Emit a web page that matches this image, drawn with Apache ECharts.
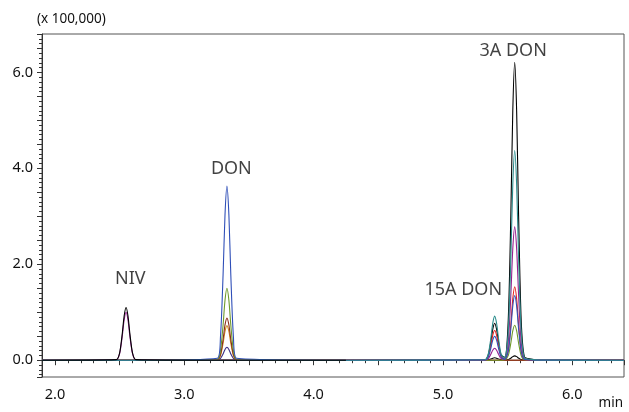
<!DOCTYPE html>
<html>
<head>
<meta charset="utf-8">
<script src="https://cdn.jsdelivr.net/npm/echarts@6/dist/echarts.min.js"></script>
<style>html,body{margin:0;padding:0;background:#fff}#c{width:629px;height:412px}</style>
</head>
<body>
<div id="c"></div>
<script>
// Retention time grid (min)
const time = [1.9,
  2.475, 2.50, 2.52, 2.535, 2.55, 2.565, 2.58, 2.60, 2.625,
  3.255, 3.28, 3.30, 3.315, 3.33, 3.345, 3.36, 3.38, 3.405,
  4.25,
  5.325, 5.35, 5.37, 5.385, 5.40, 5.415, 5.43, 5.45,
  5.478,
  5.505, 5.525, 5.54, 5.555, 5.57, 5.585, 5.605, 5.63,
  5.68, 5.75,
  6.4];

// Intensities (x 100,000)
const black1 = [0,
  0.012, 0.15, 0.54, 0.92, 1.10, 0.92, 0.54, 0.15, 0.012,
  0, 0, 0, 0, 0, 0, 0, 0, 0,
  0,
  null, null, null, null, null, null, null, null,
  null,
  null, null, null, null, null, null, null, null,
  null, null,
  null];
const purple = [0,
  0.011, 0.135, 0.487, 0.835, 1.0, 0.835, 0.487, 0.135, 0.011,
  0, 0, 0, 0, 0, 0, 0, 0, 0,
  0,
  0.003, 0.034, 0.122, 0.209, 0.25, 0.209, 0.122, 0.034,
  0.027,
  0.375, 1.354, 2.321, 2.78, 2.321, 1.354, 0.375, 0.031,
  0.011, 0.003,
  0];
const blue = [0,
  0, 0, 0, 0, 0, 0, 0, 0, 0,
  0.04, 0.49, 1.77, 3.03, 3.63, 3.03, 1.77, 0.49, 0.04,
  0,
  0.006, 0.068, 0.244, 0.418, 0.5, 0.418, 0.244, 0.068,
  0.016,
  0.182, 0.657, 1.127, 1.35, 1.127, 0.657, 0.182, 0.015,
  0.005, 0.001,
  0];
const green = [0,
  0, 0, 0, 0, 0, 0, 0, 0, 0,
  0.017, 0.2, 0.73, 1.25, 1.5, 1.25, 0.73, 0.2, 0.017,
  0,
  0, 0, 0, 0, 0, 0, 0, 0,
  0.007,
  0.099, 0.356, 0.61, 0.73, 0.61, 0.356, 0.099, 0.008,
  0.003, 0.001,
  0];
const brown = [0,
  0, 0, 0, 0, 0, 0, 0, 0, 0,
  0.01, 0.119, 0.429, 0.735, 0.88, 0.735, 0.429, 0.119, 0.01,
  0,
  0, 0, 0, 0, 0, 0, 0, 0,
  0,
  0, 0, 0, 0, 0, 0, 0, 0,
  0, 0,
  0];
const orange = [0,
  0, 0, 0, 0, 0, 0, 0, 0, 0,
  0.008, 0.097, 0.351, 0.601, 0.72, 0.601, 0.351, 0.097, 0.008,
  0,
  0, 0, 0, 0, 0, 0, 0, 0,
  0,
  0, 0, 0, 0, 0, 0, 0, 0,
  0, 0,
  0];
const navy = [0,
  0, 0, 0, 0, 0, 0, 0, 0, 0,
  0.003, 0.036, 0.131, 0.225, 0.27, 0.225, 0.131, 0.036, 0.003,
  0,
  0, 0, 0, 0, 0, 0, 0, 0,
  0,
  0, 0, 0, 0, 0, 0, 0, 0,
  0, 0,
  0];
const red = [0,
  0, 0, 0, 0, 0, 0, 0, 0, 0,
  0, 0, 0, 0, 0, 0, 0, 0, 0,
  0,
  0.007, 0.084, 0.302, 0.518, 0.62, 0.518, 0.302, 0.084,
  0.019,
  0.207, 0.745, 1.278, 1.53, 1.278, 0.745, 0.207, 0.017,
  0.006, 0.002,
  0];
const teal = [0,
  0, 0, 0, 0, 0, 0, 0, 0, 0,
  0, 0, 0, 0, 0, 0, 0, 0, 0,
  0,
  0.01, 0.124, 0.448, 0.768, 0.92, 0.768, 0.448, 0.124,
  0.046,
  0.59, 2.128, 3.649, 4.37, 3.649, 2.128, 0.59, 0.048,
  0.017, 0.004,
  0];
const black2 = [0,
  0, 0, 0, 0, 0, 0, 0, 0, 0,
  0, 0, 0, 0, 0, 0, 0, 0, 0,
  0,
  0.008, 0.104, 0.375, 0.643, 0.77, 0.643, 0.375, 0.104,
  0.062,
  0.838, 3.024, 5.185, 6.21, 5.185, 3.024, 0.838, 0.068,
  0.025, 0.006,
  0];
const black3 = [0,
  0, 0, 0, 0, 0, 0, 0, 0, 0,
  0, 0, 0, 0, 0, 0, 0, 0, 0,
  0,
  0, 0.007, 0.024, 0.042, 0.05, 0.042, 0.024, 0.007,
  0.001,
  0.012, 0.044, 0.075, 0.09, 0.075, 0.044, 0.012, 0.001,
  0, 0,
  0];

// Peak annotations
const peakNames = ['NIV', 'DON', '15A DON', '3A DON'];
const peakLabelX = [2.583, 3.364, 5.157, 5.543];
const peakLabelY = [1.69, 3.98, 1.46, 6.44];

const traces = [
  { data: black3, color: '#000000' },
  { data: black2, color: '#000000' },
  { data: navy, color: '#3b2f86' },
  { data: orange, color: '#d08a1e' },
  { data: brown, color: '#8a2d1c' },
  { data: green, color: '#6f9a2c' },
  { data: red, color: '#e42320' },
  { data: purple, color: '#96208f' },
  { data: blue, color: '#2f4fb8' },
  { data: teal, color: '#2a8c8c' },
  { data: black1, color: '#000000' }
];

const FONT = '"Noto Sans", "Open Sans", sans-serif';
const series = traces.map(t => ({
  type: 'line',
  data: time.map((x, i) => [x, t.data[i]]),
  showSymbol: false,
  symbol: 'none',
  connectNulls: false,
  smooth: 0.25,
  lineStyle: { width: 1.1, color: t.color },
  silent: true,
  z: 2
}));
series.push({
  type: 'scatter',
  data: peakNames.map((n, i) => ({ name: n, value: [peakLabelX[i], peakLabelY[i]] })),
  symbolSize: 0,
  silent: true,
  label: { show: true, position: 'inside', formatter: p => p.name, color: '#111', fontSize: 18, fontFamily: FONT },
  z: 5
});

const chart = echarts.init(document.getElementById('c'), null, { renderer: 'canvas' });
chart.setOption({
  animation: false,
  backgroundColor: '#ffffff',
  grid: { left: 42, right: 5, top: 34, bottom: 35, show: true, borderColor: '#555', borderWidth: 1, backgroundColor: 'transparent' },
  xAxis: {
    type: 'value', min: 1.9, max: 6.4, splitNumber: 9,
    axisLine: { show: true, lineStyle: { color: '#333', width: 1 } },
    axisTick: { show: true, inside: false, length: 5, lineStyle: { color: '#333' } },
    minorTick: { show: true, splitNumber: 5, length: 3, lineStyle: { color: '#333' } },
    splitLine: { show: false },
    axisLabel: {
      margin: 10, color: '#111', fontSize: 14.5, fontFamily: FONT, hideOverlap: false,
      formatter: v => Math.abs(v - Math.round(v)) < 1e-6 ? v.toFixed(1) : ''
    }
  },
  yAxis: {
    type: 'value', min: -0.35, max: 6.8, splitNumber: 14,
    axisLine: { show: true, lineStyle: { color: '#333', width: 1 } },
    axisTick: { show: true, inside: false, length: 5, lineStyle: { color: '#333' } },
    minorTick: { show: true, splitNumber: 5, length: 3, lineStyle: { color: '#333' } },
    splitLine: { show: false },
    axisLabel: {
      margin: 9, color: '#111', fontSize: 14.5, fontFamily: FONT, hideOverlap: false,
      formatter: v => (Math.abs(v / 2 - Math.round(v / 2)) < 1e-6) ? v.toFixed(1) : ''
    }
  },
  graphic: [
    { type: 'text', left: 37, top: 12, style: { text: '(x 100,000)', fill: '#111', font: '13.5px ' + FONT } },
    { type: 'text', right: 6, top: 396, style: { text: 'min', fill: '#111', font: '13.5px ' + FONT } }
  ],
  series: series
});
</script>
</body>
</html>
